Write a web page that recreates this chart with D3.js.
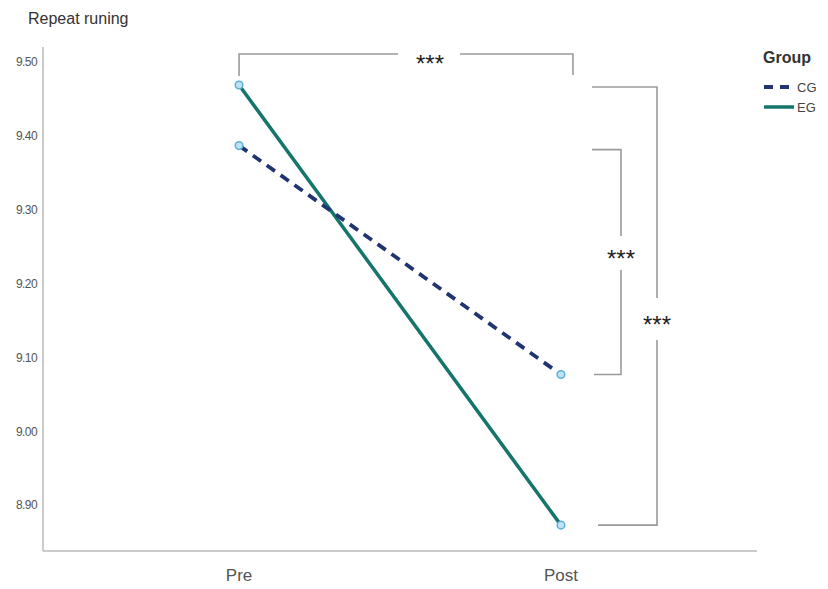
<!DOCTYPE html>
<html><head><meta charset="utf-8">
<script src="https://cdn.jsdelivr.net/npm/d3@7"></script>
<style>body{margin:0;background:#fff}svg{display:block;font-family:"Liberation Sans",Arial,sans-serif}</style>
</head><body><svg id="c" width="828" height="589"></svg>
<script>
const categories = ["Pre","Post"];
const groups = ["CG","EG"];
const cgValues = [9.387, 9.077];
const egValues = [9.469, 8.873];
const yTicks = [8.90, 9.00, 9.10, 9.20, 9.30, 9.40, 9.50];
const sigLabel = "***";

const svg = d3.select("#c");
const x = d3.scalePoint().domain(categories).range([43, 757]).padding(0.609);
const y = d3.scaleLinear().domain([8.838, 9.5205]).range([551, 47]);

// axes lines
svg.append("line").attr("x1",43).attr("x2",43).attr("y1",47).attr("y2",551).attr("stroke","#b8b8b8").attr("stroke-width",1.5);
svg.append("line").attr("x1",43).attr("x2",757).attr("y1",551).attr("y2",551).attr("stroke","#b8b8b8").attr("stroke-width",1.5);

// y tick labels
svg.append("g").selectAll("text").data(yTicks).join("text")
  .attr("x",37).attr("y",d=>y(d)).attr("dy","0.35em").attr("text-anchor","end")
  .attr("font-size",12).attr("fill","#555").attr("letter-spacing","-0.6")
  .text(d=>d.toFixed(2));

// x labels
svg.append("g").selectAll("text").data(categories).join("text")
  .attr("x",d=>x(d)).attr("y",581).attr("text-anchor","middle")
  .attr("font-size",17).attr("fill","#555").text(d=>d);

// title
svg.append("text").attr("x",28).attr("y",24).attr("font-size",16).attr("fill","#333").text("Repeat runing");

// brackets
const br = svg.append("g").attr("stroke","#9a9a9a").attr("stroke-width",1.6).attr("fill","none");
const xPre = x("Pre"), xPost = x("Post");
const topY = 54;
br.append("path").attr("d",`M${xPre},${y(egValues[0])-9}V${topY}H398`);
br.append("path").attr("d",`M460,${topY}H${xPost+12}V${topY+21}`);
// CG bracket
const cgX = 621;
const cgTop = y(cgValues[0])+4, cgBot = y(cgValues[1]);
const cgMid = (cgTop+cgBot)/2 - 9;
br.append("path").attr("d",`M592,${cgTop}H${cgX}V${cgMid-17}`);
br.append("path").attr("d",`M${cgX},${cgMid+17}V${cgBot}H594`);
// EG bracket
const egX = 657;
const egTop = y(egValues[0])+2, egBot = y(egValues[1]);
const egMid = (egTop+egBot)/2 + 13;
br.append("path").attr("d",`M592,${egTop}H${egX}V${egMid-21}`);
br.append("path").attr("d",`M${egX},${egMid+21}V${egBot}H598`);

const stars = [[430, topY+4],[cgX, cgMid],[egX, egMid]];
svg.append("g").selectAll("text").data(stars).join("text")
  .attr("x",d=>d[0]).attr("y",d=>d[1]+14).attr("text-anchor","middle")
  .attr("font-size",24).attr("fill","#222").text(sigLabel);

// lines
const line = d3.line().x((d,i)=>x(categories[i])).y(d=>y(d));
svg.append("path").datum(egValues).attr("d",line).attr("fill","none").attr("stroke","#15756b").attr("stroke-width",3.5);
svg.append("path").datum(cgValues).attr("d",line).attr("fill","none").attr("stroke","#1f3470").attr("stroke-width",3.8).attr("stroke-dasharray","10,7");

// markers
[cgValues, egValues].forEach(vals=>{
  svg.append("g").selectAll("circle").data(vals).join("circle")
    .attr("cx",(d,i)=>x(categories[i])).attr("cy",d=>y(d)).attr("r",3.8)
    .attr("fill","#bfe3f5").attr("stroke","#5aaed8").attr("stroke-width",1.5);
});

// legend
svg.append("text").attr("x",763).attr("y",63).attr("font-size",16).attr("font-weight","bold").attr("fill","#333").text("Group");
const leg = svg.append("g");
leg.append("line").attr("x1",764).attr("x2",794).attr("y1",87).attr("y2",87).attr("stroke","#1f3470").attr("stroke-width",3.8).attr("stroke-dasharray","9,7");
leg.append("text").attr("x",797).attr("y",87).attr("dy","0.35em").attr("font-size",13).attr("fill","#444").text(groups[0]);
leg.append("line").attr("x1",764).attr("x2",794).attr("y1",107).attr("y2",107).attr("stroke","#15756b").attr("stroke-width",3.5);
leg.append("text").attr("x",797).attr("y",107).attr("dy","0.35em").attr("font-size",13).attr("fill","#444").text(groups[1]);
</script></body></html>
